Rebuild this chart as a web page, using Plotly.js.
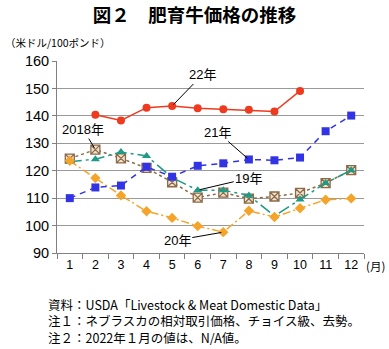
<!DOCTYPE html>
<html><head><meta charset="utf-8">
<script src="https://cdn.plot.ly/plotly-3.0.1.min.js"></script>
<style>html,body{margin:0;padding:0;background:#fff;}#c{width:389px;height:349px;}</style>
</head><body><div id="c"></div>
<script>
const months = [1,2,3,4,5,6,7,8,9,10,11,12];
const monthLabels = ['1','2','3','4','5','6','7','8','9','10','11','12'];
const y2018 = [124.4,127.7,124.5,121,115.8,110.2,112,109.8,110.6,111.9,115.5,120.2];
const y2019 = [123.3,124.2,126.8,125.4,117.5,112.9,112.9,111,103.5,109.5,115.5,120.2];
const y2020 = [123.6,117.3,111,105.2,102.8,99.8,97.6,105.4,103.1,106.3,109.4,109.9];
const y2021 = [110,113.9,114.6,121.4,117.8,121.8,122.7,124.1,123.8,124.8,134.4,140.1];
const y2022 = [null,140.4,138.3,143,143.6,142.8,142.4,142.2,141.6,149.1,null,null];
const labels = ['2018年','19年','20年','21年','22年'];
const notes = ['資料：USDA「Livestock &amp; Meat Domestic Data」',
               '注１：ネブラスカの相対取引価格、チョイス級、去勢。',
               '注２：2022年１月の値は、N/A値。'];

const F = '"Liberation Sans", Arial, "Noto Sans CJK JP", sans-serif';
const J = '"Noto Sans CJK JP", sans-serif';

const traces = [
  {x:months, y:y2018, mode:'lines+markers', line:{color:'#8C6A48', width:1.5, dash:'dot'},
   marker:{symbol:'square-x', size:9, color:'#EFE3CF', line:{color:'#8C6A48', width:1.3}}},
  {x:months, y:y2019, mode:'lines+markers', line:{color:'#1E9A86', width:1.5, dash:'12px,4px,3px,4px'},
   marker:{symbol:'triangle-up', size:8, color:'#1E9A86'}},
  {x:months, y:y2020, mode:'lines+markers', line:{color:'#F5A42A', width:1.5, dash:'8px,3px,2px,3px'},
   marker:{symbol:'diamond', size:8, color:'#F5A42A'}},
  {x:months, y:y2021, mode:'lines+markers', line:{color:'#3333E6', width:1.5, dash:'6px,5px'},
   marker:{symbol:'square', size:8, color:'#3333E6'}},
  {x:months, y:y2022, mode:'lines+markers', line:{color:'#EE3A1E', width:1.5},
   marker:{symbol:'circle', size:8, color:'#EE3A1E'}}
];

const ann = (x,y,t,ax,ay)=>({x:x, y:y, xref:'x', yref:'y', text:t, showarrow:true, arrowhead:0,
  arrowwidth:1, arrowcolor:'#000', ax:ax, ay:ay, standoff:2, font:{family:F, size:13, color:'#000'}});
const note = (y,t)=>({xref:'paper', yref:'paper', x:-0.033, y:y, xanchor:'left', yanchor:'middle', showarrow:false,
  align:'left', valign:'middle', height:15, borderpad:0, text:t, font:{family:J, size:12.5, color:'#000'}});

const layout = {
  width:389, height:349, paper_bgcolor:'#fff', plot_bgcolor:'#fff', showlegend:false,
  margin:{l:57, r:25, t:61, b:96},
  title:{text:'図２　肥育牛価格の推移', x:0.5, xanchor:'center', y:0.975, font:{family:J, size:18.5, color:'#000', weight:'bold'}},
  xaxis:{range:[0.5,12.5], tickvals:months, ticktext:monthLabels, ticks:'', showgrid:false, zeroline:false,
    showline:true, linecolor:'#808080', linewidth:1, tickfont:{family:F, size:12.5, color:'#000'},
    minor:{ticks:'outside', tick0:0.5, dtick:1, ticklen:5, tickcolor:'#808080', showgrid:false}},
  yaxis:{range:[90,160], dtick:10, ticks:'outside', ticklen:4, tickcolor:'#808080', showgrid:true, gridcolor:'#9a9a9a',
    gridwidth:1, zeroline:false, showline:true, linecolor:'#808080', linewidth:1,
    tickfont:{family:F, size:14.5, color:'#000'}},
  annotations:[
    ann(2, y2018[1], labels[0], -12, -20),
    ann(6, y2019[5], labels[1], 51, -12),
    ann(7, y2020[6], labels[2], -46, 8),
    ann(8, y2021[7], labels[3], -31, -27),
    ann(5, y2022[4], labels[4], 30, -31),
    {xref:'paper', yref:'paper', x:-0.175, y:1.095, xanchor:'left', yanchor:'middle', showarrow:false,
     text:'（米ドル/100ポンド）', font:{family:J, size:10.5, color:'#000'}},
    {xref:'paper', yref:'paper', x:1.0, y:-0.07, xanchor:'left', yanchor:'middle', showarrow:false,
     text:'(月)', font:{family:J, size:11.5, color:'#000'}},
    note(-0.268, notes[0]),
    note(-0.354, notes[1]),
    note(-0.440, notes[2])
  ]
};
Plotly.newPlot('c', traces, layout, {displayModeBar:false, staticPlot:true});
</script></body></html>
